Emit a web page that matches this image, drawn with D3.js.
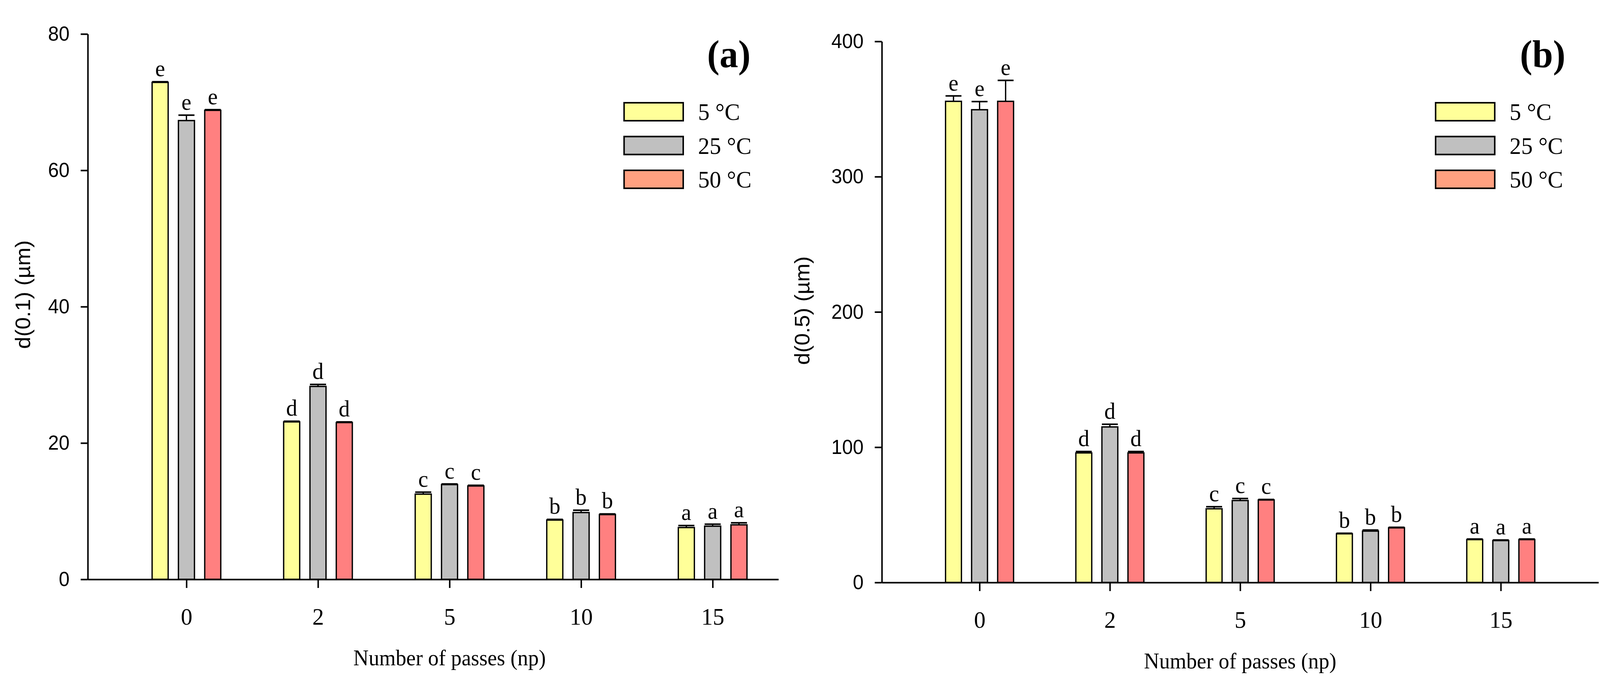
<!DOCTYPE html>
<html>
<head>
<meta charset="utf-8">
<script src="https://cdn.jsdelivr.net/npm/d3@7"></script>
<style>
  html, body { margin: 0; padding: 0; background: #fff; overflow: hidden; }
  svg { display: block; width: 100vw; height: 100vh; }
</style>
</head>
<body>
<svg id="chart"></svg>
<script>
// categories and series
const passes = ["0", "2", "5", "10", "15"];
const temps = ["5 °C", "25 °C", "50 °C"];
const letters = ["e", "d", "c", "b", "a"];

// d(0.1) in µm, one array per temperature
const d01_5 = [72.9, 23.1, 12.5, 8.7, 7.6];
const d01_25 = [67.3, 28.3, 13.9, 9.8, 7.8];
const d01_50 = [68.8, 23.0, 13.7, 9.5, 8.0];
const d01_5_err = [0.1, 0.1, 0.3, 0.1, 0.3];
const d01_25_err = [0.8, 0.3, 0.1, 0.35, 0.3];
const d01_50_err = [0.1, 0.1, 0.1, 0.1, 0.3];

// d(0.5) in µm
const d05_5 = [355.7, 95.8, 54.5, 36.0, 31.7];
const d05_25 = [349.5, 115.0, 60.6, 38.0, 31.0];
const d05_50 = [355.7, 95.8, 61.0, 40.4, 31.7];
const d05_5_err = [4, 1, 1.5, 0.4, 0.4];
const d05_25_err = [6, 2, 1.5, 0.8, 0.4];
const d05_50_err = [15.5, 1, 0.4, 0.4, 0.4];

const yTicks01 = [0, 20, 40, 60, 80];
const yTicks05 = [0, 100, 200, 300, 400];

const barColors = ["#ffff99", "#c0c0c0", "#ff8080"];
const legendColors = ["#ffff99", "#c0c0c0", "#ffa080"];

const SERIF = "'Liberation Serif', 'Times New Roman', serif";
const SANS = "'Liberation Sans', Arial, sans-serif";

class BarPanel {
    constructor(_config, _values, _errors) {
        this.config = _config;
        this.values = _values;
        this.errors = _errors;
        this.initVis();
    }

    initVis() {
        let vis = this;
        let c = vis.config;

        vis.x = d3.scaleLinear().domain(c.xDomain).range([c.left, c.right]);
        vis.y = d3.scaleLinear().domain([0, d3.max(c.yTicks)]).range([c.bottom, c.top]);

        vis.g = c.svg.append('g');

        // flatten into one row per bar
        vis.rows = [];
        passes.forEach((p, i) => {
            temps.forEach((t, s) => {
                vis.rows.push({ i: i, s: s, v: vis.values[s][i], e: vis.errors[s][i], letter: letters[i] });
            });
        });

        vis.renderVis();
    }

    renderVis() {
        let vis = this;
        let c = vis.config;
        const step = 0.2;      // bar spacing inside a group, in category units
        const bw = vis.x(0.122) - vis.x(0);
        const cx = d => vis.x(d.i + (d.s - 1) * step);

        // bars
        vis.g.selectAll('rect.bar')
            .data(vis.rows)
            .join('rect')
            .attr('class', 'bar')
            .attr('x', d => cx(d) - bw / 2)
            .attr('y', d => vis.y(d.v))
            .attr('width', bw)
            .attr('height', d => vis.y(0) - vis.y(d.v))
            .attr('fill', d => barColors[d.s])
            .attr('stroke', '#000')
            .attr('stroke-width', 3.5);

        // error bars (upper half only)
        vis.g.selectAll('line.err')
            .data(vis.rows)
            .join('line')
            .attr('class', 'err')
            .attr('x1', d => cx(d)).attr('x2', d => cx(d))
            .attr('y1', d => vis.y(d.v)).attr('y2', d => vis.y(d.v + d.e))
            .attr('stroke', '#000').attr('stroke-width', 3.5);
        vis.g.selectAll('line.cap')
            .data(vis.rows)
            .join('line')
            .attr('class', 'cap')
            .attr('x1', d => cx(d) - bw / 2).attr('x2', d => cx(d) + bw / 2)
            .attr('y1', d => vis.y(d.v + d.e)).attr('y2', d => vis.y(d.v + d.e))
            .attr('stroke', '#000').attr('stroke-width', 4);

        // significance letters
        vis.g.selectAll('text.letter')
            .data(vis.rows)
            .join('text')
            .attr('class', 'letter')
            .attr('x', d => cx(d))
            .attr('y', d => vis.y(d.v + d.e) - 14)
            .attr('text-anchor', 'middle')
            .attr('font-family', SERIF)
            .attr('font-size', 60)
            .text(d => d.letter);

        // y axis
        const yAxis = vis.g.append('g')
            .attr('transform', `translate(${c.left},0)`)
            .call(d3.axisLeft(vis.y).tickValues(c.yTicks).tickSize(19).tickSizeOuter(0).tickPadding(30));
        yAxis.selectAll('path, line').attr('stroke', '#000').attr('stroke-width', 4);
        yAxis.selectAll('text').attr('font-family', SANS).attr('font-size', 52).attr('fill', '#000');

        // x axis
        const xAxis = vis.g.append('g')
            .attr('transform', `translate(0,${c.bottom})`)
            .call(d3.axisBottom(vis.x).tickValues(d3.range(passes.length)).tickFormat(i => passes[i])
                .tickSize(22).tickSizeOuter(0).tickPadding(50));
        xAxis.selectAll('path, line').attr('stroke', '#000').attr('stroke-width', 4);
        xAxis.selectAll('text').attr('font-family', SERIF).attr('font-size', 62).attr('fill', '#000');

        // axis titles
        vis.g.append('text')
            .attr('x', vis.x(2))
            .attr('y', c.bottom + 220)
            .attr('text-anchor', 'middle')
            .attr('font-family', SERIF)
            .attr('font-size', 57)
            .text('Number of passes (np)');

        vis.g.append('text')
            .attr('transform', `translate(${c.yLabelX},${c.yLabelY}) rotate(-90)`)
            .attr('text-anchor', 'middle')
            .attr('dominant-baseline', 'central')
            .attr('font-family', SANS)
            .attr('font-size', 56)
            .text(c.yLabel);

        // panel tag
        vis.g.append('text')
            .attr('x', c.tagX)
            .attr('y', 172)
            .attr('text-anchor', 'end')
            .attr('font-family', SERIF)
            .attr('font-weight', 'bold')
            .attr('font-size', 100)
            .text(c.tag);

        // legend
        const leg = vis.g.selectAll('g.leg')
            .data(temps)
            .join('g')
            .attr('class', 'leg')
            .attr('transform', (d, i) => `translate(${c.legendX},${263 + i * 86.5})`);
        leg.append('rect')
            .attr('width', 159).attr('height', 46)
            .attr('fill', (d, i) => legendColors[i])
            .attr('stroke', '#000').attr('stroke-width', 4);
        leg.append('text')
            .attr('x', 199).attr('y', 23)
            .attr('dominant-baseline', 'central')
            .attr('font-family', SERIF)
            .attr('font-size', 62)
            .text(d => d);
    }
}

// fill the whole window so the layout lines up with the 4302x1779 frame
const svg = d3.select('#chart')
    .attr('viewBox', '0 0 4302 1779')
    .attr('preserveAspectRatio', 'none');

new BarPanel({
    svg: svg, left: 236, right: 2093, top: 87, bottom: 1483,
    xDomain: [-0.75, 4.5], yTicks: yTicks01,
    yLabel: 'd(0.1) (µm)', yLabelX: 62, yLabelY: 754,
    tag: '(a)', tagX: 2018, legendX: 1678
}, [d01_5, d01_25, d01_50], [d01_5_err, d01_25_err, d01_50_err]);

new BarPanel({
    svg: svg, left: 2371, right: 4298, top: 106, bottom: 1491,
    xDomain: [-0.75, 4.75], yTicks: yTicks05,
    yLabel: 'd(0.5) (µm)', yLabelX: 2157, yLabelY: 795,
    tag: '(b)', tagX: 4209, legendX: 3860
}, [d05_5, d05_25, d05_50], [d05_5_err, d05_25_err, d05_50_err]);
</script>
</body>
</html>
